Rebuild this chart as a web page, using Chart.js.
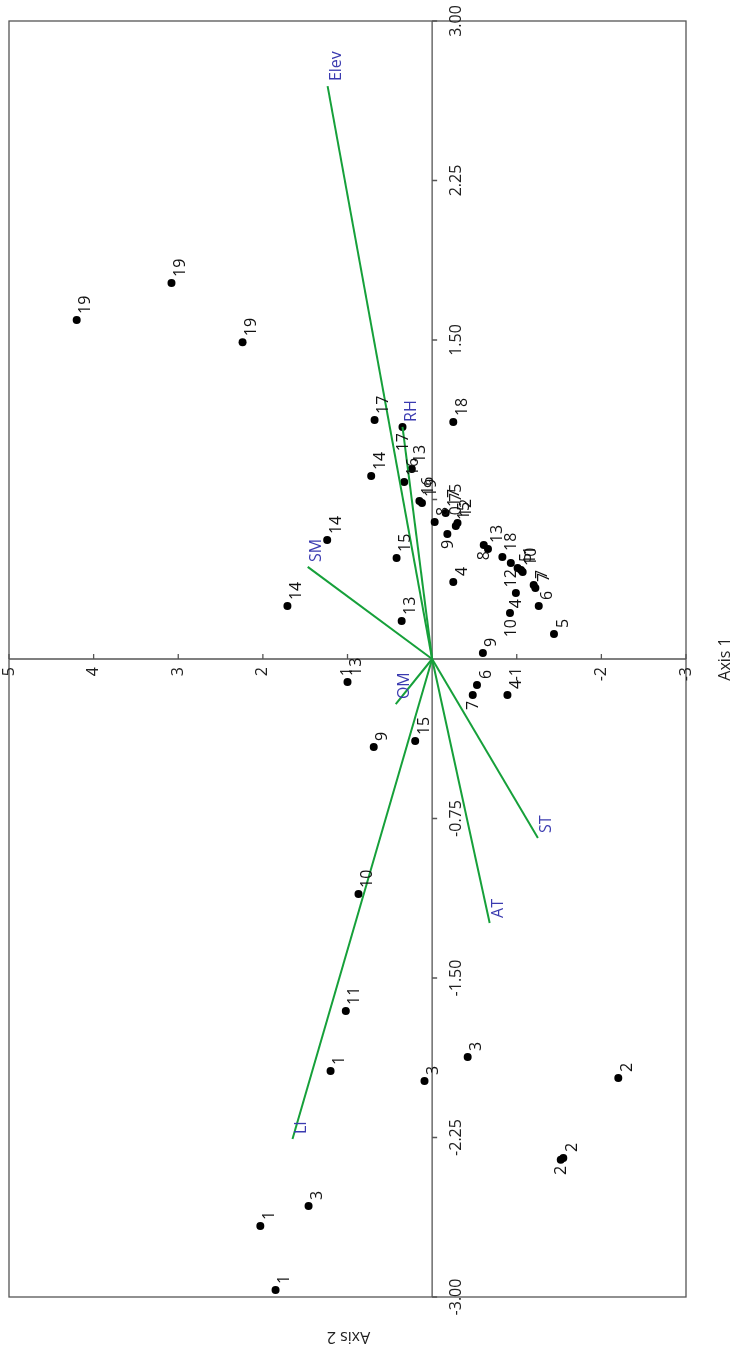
<!DOCTYPE html>
<html>
<head>
<meta charset="utf-8">
<script src="https://cdn.jsdelivr.net/npm/chart.js@4.4.1/dist/chart.umd.min.js"></script>
<style>
  html, body { margin: 0; padding: 0; background: #fff; }
  canvas { display: block; }
</style>
</head>
<body>
<canvas id="chart-ord" width="739" height="1352"></canvas>
<script>
// sample scores (Axis 1, Axis 2)
const pointLabels = ['19','19','19','17','17','18','14','13','16','16','19','14','8','17','12','15','9','15','4','13','14',
  '8','13','18','12','5','11','10','7','7','4','6','10','5','9','6','7','4','13','9','15','10','11','1','3','3','2','2','2','3','1','1'];
const axis1Scores = [4.20,3.08,2.24,0.68,0.35,-0.25,0.72,0.24,0.33,0.15,0.12,1.24,-0.03,-0.16,-0.30,-0.28,-0.18,0.42,-0.25,0.36,1.71,
  -0.61,-0.66,-0.83,-0.93,-1.01,-1.05,-1.07,-1.20,-1.22,-0.99,-1.26,-0.92,-1.44,-0.60,-0.53,-0.48,-0.89,1.00,0.69,0.20,0.87,1.02,1.20,0.09,-0.42,-2.20,-1.55,-1.52,1.46,2.03,1.85];
const axis2Scores = [1.594,1.768,1.490,1.124,1.091,1.114,0.860,0.893,0.832,0.743,0.733,0.559,0.644,0.686,0.639,0.625,0.588,0.475,0.362,0.179,0.249,
  0.536,0.517,0.480,0.451,0.428,0.418,0.409,0.348,0.334,0.310,0.249,0.216,0.118,0.028,-0.122,-0.169,-0.169,-0.108,-0.414,-0.386,-1.105,-1.655,-1.937,-1.984,-1.871,-1.970,-2.346,-2.355,-2.572,-2.666,-2.967];

// environmental vectors
const vectorNames = ['Elev','RH','SM','OM','LI','AT','ST'];
const vectorAxis1 = [1.235,0.35,1.47,0.43,1.65,-0.68,-1.25];
const vectorAxis2 = [2.694,1.091,0.433,-0.212,-2.257,-1.241,-0.842];

const axis1Ticks = [5,4,3,2,1,-1,-2,-3];
const axis2Ticks = [3,2.25,1.5,0.75,-0.75,-1.5,-2.25,-3];

const FONT = '16px "Open Sans", "Noto Sans", sans-serif';
const GREEN = '#16a03a';
const BLUE = '#3b3bb0';
const AXIS = '#555';
const UP = -Math.PI / 2;

// labels that sit below the point instead of above it (overlaps in the original)
const labelBelow = new Set([4, 16, 21, 24, 30, 32, 36, 48]);

function rotText(ctx, text, x, y, angle, align) {
  ctx.save();
  ctx.translate(x, y);
  ctx.rotate(angle);
  ctx.textAlign = align;
  ctx.textBaseline = 'middle';
  ctx.fillText(text, 0, 0);
  ctx.restore();
}

const ordPlugin = {
  id: 'ordination',
  beforeDatasetsDraw(chart) {
    const ctx = chart.ctx;
    const a = chart.chartArea;
    const sx = chart.scales.x, sy = chart.scales.y;
    const x0 = sx.getPixelForValue(0), y0 = sy.getPixelForValue(0);
    ctx.save();
    ctx.strokeStyle = AXIS;
    ctx.lineWidth = 1.3;
    ctx.strokeRect(a.left, a.top, a.right - a.left, a.bottom - a.top);
    ctx.beginPath();
    ctx.moveTo(a.left, y0); ctx.lineTo(a.right, y0);
    ctx.moveTo(x0, a.top); ctx.lineTo(x0, a.bottom);
    axis1Ticks.forEach(v => {
      const px = sx.getPixelForValue(v);
      ctx.moveTo(px, y0); ctx.lineTo(px, y0 - 5);
    });
    axis2Ticks.forEach(v => {
      const py = sy.getPixelForValue(v);
      ctx.moveTo(x0, py); ctx.lineTo(x0 + 5, py);
    });
    ctx.stroke();

    ctx.font = FONT;
    ctx.fillStyle = '#222';
    axis1Ticks.forEach(v => {
      rotText(ctx, String(v), sx.getPixelForValue(v), y0 + 8, UP, 'right');
    });
    axis2Ticks.forEach(v => {
      rotText(ctx, v.toFixed(2), x0 + 24, sy.getPixelForValue(v), UP, 'center');
    });
    rotText(ctx, 'Axis 1', a.right + 39, y0, UP, 'center');
    rotText(ctx, 'Axis 2', (a.left + a.right) / 2 + 1, a.bottom + 40, Math.PI, 'center');
    ctx.restore();
  },
  afterDatasetsDraw(chart) {
    const ctx = chart.ctx;
    const sx = chart.scales.x, sy = chart.scales.y;
    ctx.save();
    ctx.font = FONT;
    ctx.fillStyle = '#111';
    pointLabels.forEach((t, i) => {
      const px = sx.getPixelForValue(axis1Scores[i]);
      const py = sy.getPixelForValue(axis2Scores[i]);
      if (labelBelow.has(i)) {
        rotText(ctx, t, px + 1, py + 6, UP, 'right');
      } else {
        rotText(ctx, t, px + 9, py - 6, UP, 'left');
      }
    });
    ctx.fillStyle = BLUE;
    vectorNames.forEach((t, i) => {
      const px = sx.getPixelForValue(vectorAxis1[i]);
      const py = sy.getPixelForValue(vectorAxis2[i]);
      rotText(ctx, t, px + 9, py - 5, UP, 'left');
    });
    ctx.restore();
  }
};

const vectorSets = vectorNames.map((n, i) => ({
  label: n,
  data: [{ x: 0, y: 0 }, { x: vectorAxis1[i], y: vectorAxis2[i] }],
  showLine: true,
  borderColor: GREEN,
  borderWidth: 2,
  pointRadius: 0,
  fill: false
}));

const pointSet = {
  label: 'Samples',
  data: axis1Scores.map((v, i) => ({ x: v, y: axis2Scores[i] })),
  backgroundColor: '#000',
  borderWidth: 0,
  pointRadius: 4
};

new Chart(document.getElementById('chart-ord'), {
  type: 'scatter',
  data: { datasets: vectorSets.concat([pointSet]) },
  options: {
    responsive: false,
    animation: false,
    devicePixelRatio: 1,
    layout: { padding: { left: 9, right: 53, top: 21, bottom: 55 } },
    plugins: { legend: { display: false }, tooltip: { enabled: false } },
    scales: {
      x: { type: 'linear', min: -3, max: 5, reverse: true, display: false },
      y: { type: 'linear', min: -3, max: 3, display: false }
    }
  },
  plugins: [ordPlugin]
});
</script>
</body>
</html>
